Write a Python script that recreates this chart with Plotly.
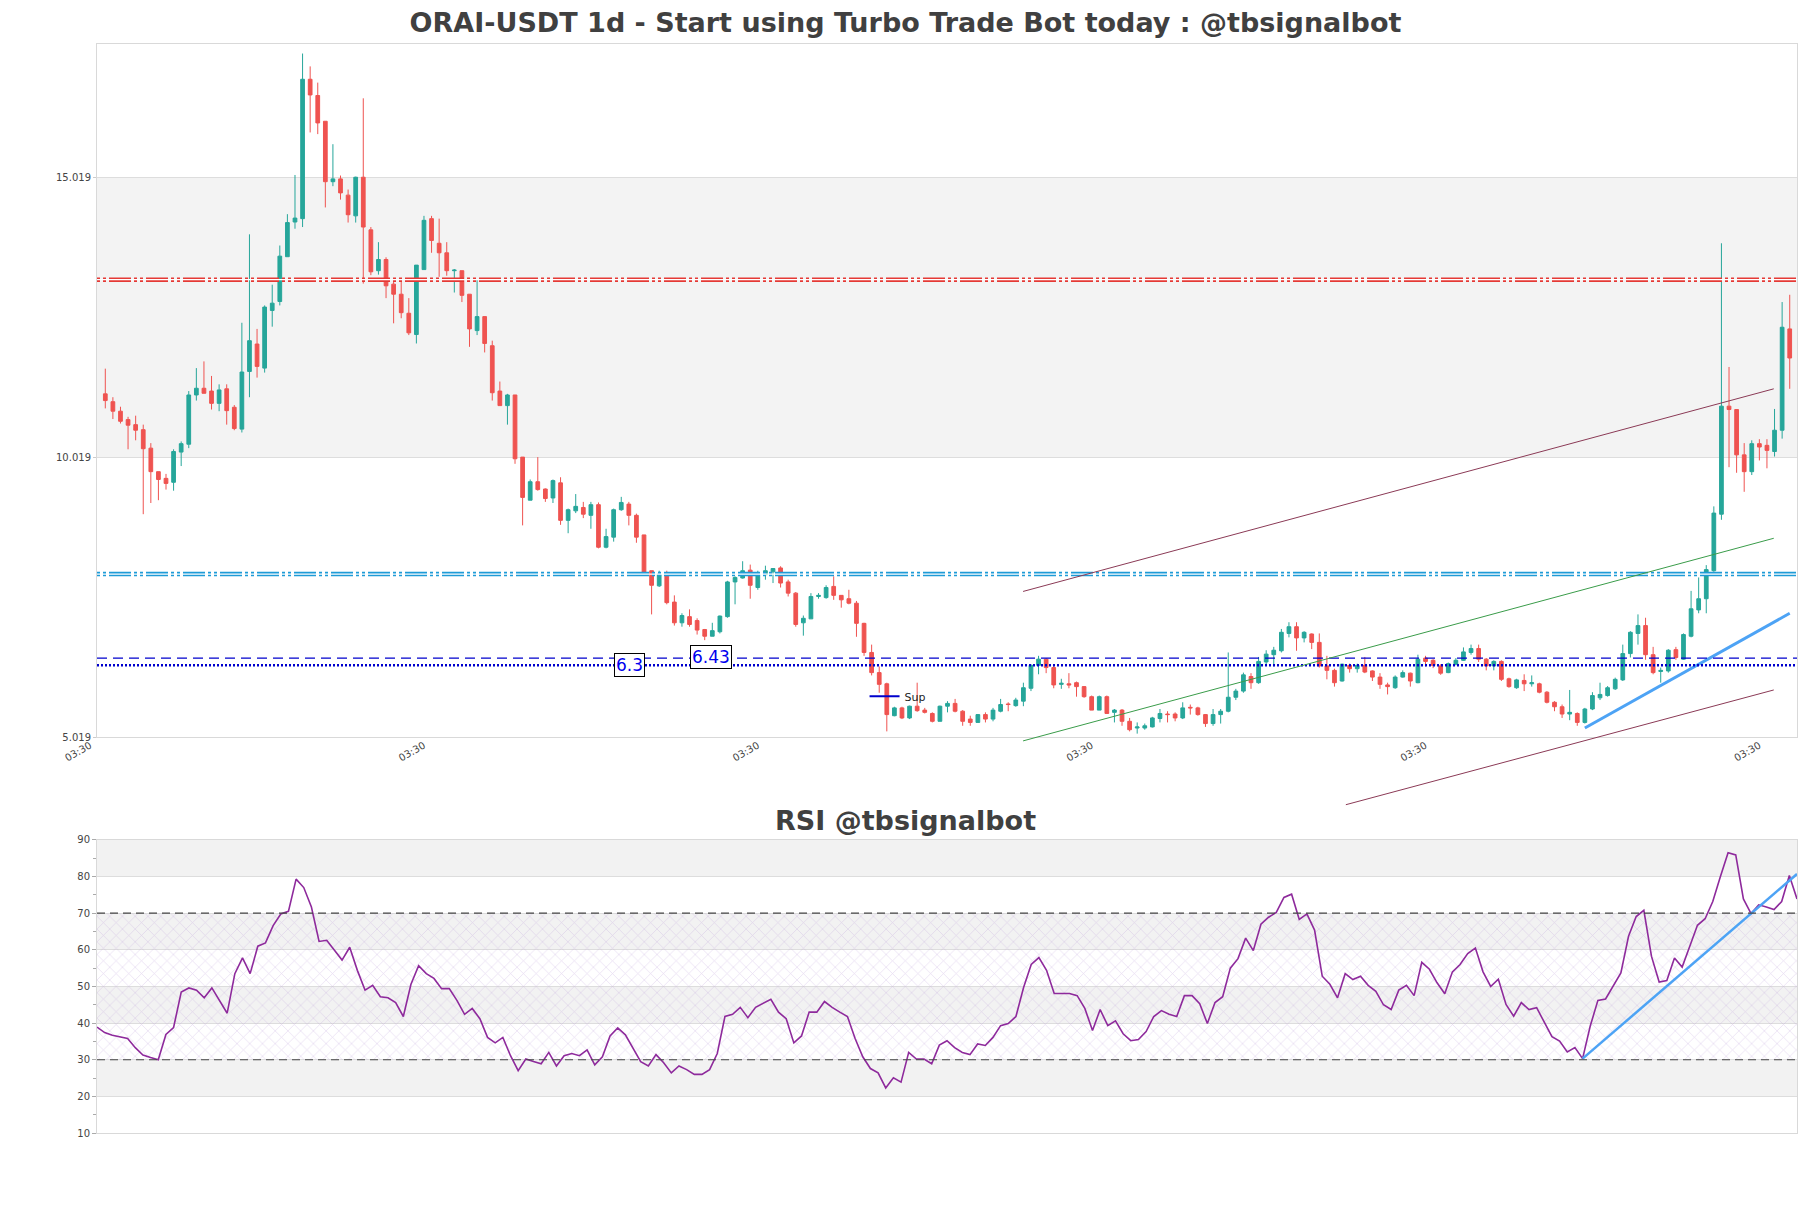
import plotly.graph_objects as go

# ---------------- data ----------------
opens = [11.15, 11.01, 10.84, 10.69, 10.60, 10.51, 10.18, 9.76, 9.64, 9.57,
         10.11, 10.25, 11.13, 11.25, 11.20, 10.98, 11.24, 10.91, 10.52, 11.55,
         12.04, 11.61, 12.64, 12.80, 13.60, 14.22, 14.28, 16.77, 16.48, 16.02,
         14.94, 14.99, 14.70, 14.33, 15.02, 14.08, 13.35, 13.55, 13.11, 12.93,
         12.59, 12.21, 13.37, 14.28, 13.84, 13.67, 13.35, 13.35, 12.93, 12.28,
         12.53, 12.01, 11.20, 10.94, 11.13, 10.02, 9.25, 9.58, 9.45, 9.29,
         9.56, 8.89, 9.06, 9.12, 8.98, 9.17, 8.41, 8.59, 9.08, 9.18,
         8.98, 8.63, 7.99, 7.72, 7.93, 7.43, 7.06, 7.17, 7.10, 6.94,
         6.82, 6.90, 7.17, 7.79, 7.86, 8.00, 7.69, 7.92, 7.97, 8.04,
         7.79, 7.59, 7.06, 7.13, 7.53, 7.51, 7.71, 7.55, 7.49, 7.41,
         7.05, 6.53, 6.17, 5.97, 5.40, 5.54, 5.36, 5.57, 5.50, 5.44,
         5.30, 5.57, 5.62, 5.48, 5.34, 5.28, 5.42, 5.34, 5.48, 5.61,
         5.58, 5.66, 5.89, 6.30, 6.41, 6.26, 5.96, 5.97, 5.99, 5.92,
         5.74, 5.50, 5.74, 5.46, 5.50, 5.30, 5.18, 5.18, 5.20, 5.35,
         5.43, 5.43, 5.36, 5.55, 5.54, 5.42, 5.26, 5.42, 5.48, 5.73,
         5.84, 6.10, 5.99, 6.36, 6.49, 6.56, 6.87, 6.99, 6.79, 6.86,
         6.71, 6.29, 6.21, 6.02, 6.30, 6.24, 6.30, 6.20, 6.09, 5.95,
         5.90, 6.09, 6.16, 5.99, 6.43, 6.39, 6.29, 6.17, 6.32, 6.39,
         6.53, 6.60, 6.41, 6.29, 6.37, 6.06, 5.90, 6.03, 5.97, 5.97,
         5.82, 5.64, 5.56, 5.43, 5.44, 5.28, 5.52, 5.72, 5.76, 5.88,
         6.04, 6.51, 6.87, 7.01, 6.49, 6.19, 6.20, 6.58, 6.41, 6.82,
         7.29, 7.49, 7.99, 9.00, 10.93, 10.87, 10.06, 9.76, 10.26, 10.23,
         10.12, 10.50, 12.31]
highs = [11.60, 11.09, 10.92, 10.74, 10.76, 10.60, 10.27, 9.76, 9.72, 10.16,
         10.30, 11.20, 11.61, 11.73, 11.47, 11.32, 11.32, 10.95, 12.42, 14.00,
         12.31, 12.73, 13.10, 13.80, 14.36, 15.06, 17.23, 17.00, 16.71, 16.02,
         15.61, 15.05, 14.80, 15.03, 16.43, 14.13, 13.86, 13.59, 13.16, 13.16,
         12.86, 13.45, 14.33, 14.33, 14.28, 13.86, 13.38, 13.35, 12.93, 13.19,
         12.53, 12.10, 11.37, 11.15, 11.13, 10.02, 9.62, 10.02, 9.46, 9.62,
         9.66, 9.10, 9.36, 9.22, 9.22, 9.21, 8.74, 9.10, 9.31, 9.22,
         9.01, 8.63, 7.99, 7.99, 7.99, 7.55, 7.23, 7.30, 7.14, 6.95,
         7.06, 7.19, 7.81, 7.89, 8.16, 8.10, 7.99, 8.08, 8.03, 8.07,
         7.83, 7.61, 7.19, 7.59, 7.59, 7.73, 7.89, 7.55, 7.65, 7.45,
         7.06, 6.67, 6.28, 5.99, 5.56, 5.56, 5.58, 5.99, 5.54, 5.46,
         5.58, 5.66, 5.70, 5.50, 5.40, 5.43, 5.46, 5.54, 5.70, 5.64,
         5.72, 5.99, 6.32, 6.47, 6.43, 6.29, 6.06, 6.16, 6.01, 5.93,
         5.76, 5.76, 5.76, 5.52, 5.52, 5.36, 5.28, 5.26, 5.38, 5.52,
         5.48, 5.46, 5.64, 5.60, 5.56, 5.43, 5.52, 5.52, 6.53, 5.88,
         6.17, 6.16, 6.45, 6.57, 6.63, 6.95, 7.07, 7.07, 6.91, 6.87,
         6.87, 6.47, 6.24, 6.33, 6.33, 6.33, 6.45, 6.21, 6.16, 5.99,
         6.12, 6.21, 6.17, 6.49, 6.47, 6.41, 6.32, 6.35, 6.43, 6.62,
         6.67, 6.67, 6.43, 6.39, 6.39, 6.08, 6.06, 6.14, 6.12, 5.99,
         5.84, 5.66, 5.60, 5.86, 5.46, 5.54, 5.82, 5.99, 5.93, 6.08,
         6.67, 6.91, 7.21, 7.15, 6.63, 6.26, 6.59, 6.63, 6.87, 7.63,
         7.87, 8.09, 9.14, 13.84, 11.63, 10.87, 10.27, 10.32, 10.34, 10.34,
         10.88, 12.79, 12.92]
lows = [10.89, 10.70, 10.62, 10.16, 10.32, 9.00, 9.20, 9.25, 9.44, 9.42,
        9.86, 10.18, 11.03, 11.16, 10.87, 10.84, 10.60, 10.50, 10.46, 11.09,
        11.44, 11.53, 12.35, 12.73, 13.60, 14.10, 14.13, 15.82, 15.79, 14.48,
        14.86, 14.62, 14.21, 14.21, 13.12, 13.27, 13.28, 12.86, 12.41, 12.50,
        12.20, 12.05, 13.37, 13.67, 13.24, 13.26, 12.96, 12.79, 11.99, 12.20,
        11.89, 11.03, 10.94, 10.60, 9.90, 8.80, 9.25, 9.42, 9.22, 9.20,
        8.81, 8.66, 9.02, 8.93, 8.74, 8.39, 8.39, 8.51, 9.06, 8.80,
        8.49, 7.96, 7.21, 7.70, 7.39, 7.01, 6.99, 6.99, 6.85, 6.75,
        6.82, 6.87, 7.15, 7.39, 7.85, 7.49, 7.65, 7.83, 7.77, 7.69,
        7.53, 6.99, 6.83, 7.13, 7.49, 7.49, 7.47, 7.33, 7.39, 6.81,
        6.47, 6.12, 5.81, 5.12, 5.39, 5.34, 5.34, 5.47, 5.44, 5.28,
        5.30, 5.46, 5.46, 5.22, 5.22, 5.28, 5.28, 5.30, 5.46, 5.48,
        5.56, 5.57, 5.84, 6.14, 6.16, 5.89, 5.88, 5.89, 5.74, 5.72,
        5.50, 5.50, 5.44, 5.28, 5.22, 5.12, 5.08, 5.15, 5.19, 5.28,
        5.28, 5.30, 5.34, 5.42, 5.40, 5.20, 5.22, 5.26, 5.46, 5.68,
        5.81, 5.88, 5.97, 6.32, 6.28, 6.53, 6.80, 6.56, 6.71, 6.59,
        6.26, 6.05, 5.92, 6.01, 6.17, 6.17, 6.16, 6.02, 5.88, 5.78,
        5.88, 6.08, 5.92, 5.98, 6.28, 6.25, 6.13, 6.16, 6.30, 6.38,
        6.49, 6.36, 6.21, 6.21, 6.02, 5.90, 5.88, 5.84, 5.92, 5.80,
        5.62, 5.48, 5.36, 5.32, 5.22, 5.26, 5.50, 5.68, 5.74, 5.86,
        6.02, 6.44, 6.67, 6.40, 6.14, 5.99, 6.17, 6.40, 6.40, 6.80,
        7.23, 7.23, 7.97, 8.90, 9.84, 9.74, 9.40, 9.70, 9.96, 9.82,
        10.03, 10.35, 11.24]
closes = [11.03, 10.84, 10.66, 10.59, 10.50, 10.17, 9.76, 9.62, 9.55, 10.12,
          10.26, 11.13, 11.25, 11.16, 10.98, 11.22, 10.85, 10.53, 11.54, 12.10,
          11.64, 12.70, 12.77, 13.61, 14.21, 14.29, 16.77, 16.49, 15.99, 14.94,
          14.99, 14.74, 14.35, 15.02, 14.13, 13.33, 13.55, 13.08, 12.93, 12.60,
          12.24, 13.45, 14.25, 13.89, 13.67, 13.35, 13.36, 12.91, 12.31, 12.53,
          12.05, 11.17, 10.94, 11.13, 9.99, 9.30, 9.58, 9.44, 9.28, 9.60,
          8.89, 9.08, 9.14, 9.00, 9.17, 8.41, 8.60, 9.08, 9.21, 8.98,
          8.59, 7.96, 7.73, 7.93, 7.42, 7.06, 7.19, 7.03, 6.93, 6.82,
          6.92, 7.18, 7.79, 7.87, 7.99, 7.73, 7.93, 7.99, 8.03, 7.77,
          7.59, 7.03, 7.14, 7.53, 7.55, 7.69, 7.55, 7.47, 7.41, 7.05,
          6.53, 6.17, 5.96, 5.42, 5.54, 5.36, 5.57, 5.49, 5.46, 5.30,
          5.57, 5.62, 5.48, 5.30, 5.28, 5.42, 5.34, 5.50, 5.60, 5.60,
          5.68, 5.90, 6.30, 6.41, 6.26, 5.95, 5.98, 5.95, 5.92, 5.74,
          5.50, 5.74, 5.44, 5.50, 5.30, 5.15, 5.20, 5.22, 5.36, 5.44,
          5.42, 5.36, 5.54, 5.54, 5.42, 5.26, 5.42, 5.48, 5.73, 5.84,
          6.13, 5.99, 6.37, 6.50, 6.57, 6.89, 6.99, 6.79, 6.89, 6.71,
          6.29, 6.21, 5.99, 6.32, 6.24, 6.30, 6.18, 6.09, 5.96, 5.92,
          6.09, 6.17, 6.02, 6.41, 6.37, 6.30, 6.16, 6.33, 6.39, 6.54,
          6.60, 6.41, 6.29, 6.37, 6.05, 5.92, 6.04, 5.97, 5.99, 5.82,
          5.64, 5.56, 5.43, 5.46, 5.28, 5.52, 5.76, 5.78, 5.90, 6.05,
          6.51, 6.89, 7.01, 6.49, 6.17, 6.21, 6.57, 6.44, 6.85, 7.31,
          7.49, 8.01, 9.02, 10.93, 10.87, 10.06, 9.76, 10.26, 10.20, 10.14,
          10.50, 12.34, 11.79]
rsi = [38.9, 37.4, 36.7, 36.2, 35.8, 33.3, 31.3, 30.6, 30.0, 36.9,
       38.8, 48.5, 49.6, 49.0, 46.9, 49.6, 46.0, 42.7, 53.5, 57.8,
       53.5, 61.0, 61.9, 66.6, 69.8, 70.5, 79.3, 77.0, 71.7, 62.3,
       62.6, 60.0, 57.2, 60.7, 54.4, 49.0, 50.3, 47.2, 46.9, 45.6,
       41.8, 50.6, 55.7, 53.5, 52.2, 49.4, 49.4, 46.2, 42.4, 44.0,
       41.2, 36.1, 34.6, 36.1, 31.1, 27.0, 30.2, 29.5, 28.9, 32.0,
       28.3, 31.1, 31.7, 31.1, 32.7, 28.6, 30.8, 36.5, 38.7, 36.8,
       33.0, 29.5, 28.3, 31.4, 29.2, 26.4, 28.3, 27.3, 26.0, 26.0,
       27.3, 31.7, 41.8, 42.4, 44.3, 41.5, 44.3, 45.3, 46.5, 43.0,
       41.2, 34.6, 36.5, 43.0, 43.0, 45.9, 44.3, 43.0, 41.8, 35.8,
       30.8, 27.6, 26.4, 22.3, 25.1, 23.9, 32.0, 30.2, 30.2, 28.9,
       34.0, 35.2, 33.3, 32.0, 31.4, 34.3, 33.9, 36.1, 39.3, 39.9,
       41.8, 49.7, 56.0, 57.9, 54.4, 48.1, 48.1, 48.1, 47.5, 44.0,
       38.0, 43.7, 39.3, 40.6, 37.1, 35.2, 35.5, 37.7, 41.8, 43.4,
       42.4, 41.8, 47.5, 47.5, 45.3, 39.9, 45.6, 47.2, 55.0, 57.6,
       63.2, 59.8, 67.0, 68.9, 70.2, 74.3, 75.2, 68.3, 69.8, 65.4,
       52.8, 50.6, 46.9, 53.5, 51.9, 52.8, 50.3, 48.7, 45.0, 43.7,
       49.0, 50.3, 47.5, 56.6, 54.7, 51.0, 48.0, 54.0, 56.0, 59.0,
       60.5, 54.0, 50.0, 52.0, 45.1, 41.9, 45.6, 43.7, 44.2, 40.1,
       36.3, 35.1, 32.1, 33.3, 30.3, 39.2, 46.2, 46.6, 50.1, 53.7,
       63.7, 69.1, 70.8, 58.2, 51.2, 51.6, 57.8, 55.3, 61.0, 66.7,
       68.5, 73.2, 80.0, 86.5, 85.9, 73.9, 69.9, 72.3, 71.7, 71.0,
       73.2, 80.3, 73.9]
idx = list(range(len(closes)))

tick_pos = [-1.09, 42.9, 86.9, 130.9, 174.9, 218.9]
tick_text = ["03:30"] * len(tick_pos)
price_ticks = [5.019, 10.019, 15.019]

res_level = 13.19
mid_level = 7.93
sup_dash = 6.43
sup_dot = 6.3

upper_ch_x, upper_ch_y = [120.96, 219.9], [7.62, 11.24]
green_ch_x, green_ch_y = [120.96, 219.9], [4.95, 8.57]
lower_ch_x, lower_ch_y = [163.5, 219.9], [3.81, 5.86]
sup_tr_x, sup_tr_y = [195, 222], [5.18, 7.23]
rsi_tr_x, rsi_tr_y = [194, 222], [30.3, 80.7]

# ---------------- layout constants ----------------
# the page body adds an 8px offset, so the figure is 8px smaller
W, H = 1803, 1200
MAIN_DOM = [0.3636, 1.0]
RSI_DOM = [0.0, 0.2691]
YMIN, YMAX = 5.019, 17.40
XMIN, XMAX = -1.094, 222.96
FONT = "DejaVu Sans"
GREEN, RED = "#26a69a", "#ef5350"


def to_paper(v):
    return MAIN_DOM[0] + (v - YMIN) / (YMAX - YMIN) * (MAIN_DOM[1] - MAIN_DOM[0])


fig = go.Figure()

fig.add_trace(go.Candlestick(
    x=idx, open=opens, high=highs, low=lows, close=closes,
    increasing=dict(line=dict(color=GREEN, width=1), fillcolor=GREEN),
    decreasing=dict(line=dict(color=RED, width=1), fillcolor=RED),
    whiskerwidth=0, showlegend=False, xaxis="x", yaxis="y", hoverinfo="skip"))

# support trendline
fig.add_trace(go.Scatter(x=sup_tr_x, y=sup_tr_y, mode="lines",
                         line=dict(color="#4da3f5", width=3), showlegend=False,
                         xaxis="x", yaxis="y", hoverinfo="skip"))

# legend entry
fig.add_trace(go.Scatter(x=[None], y=[None], mode="lines", name="Sup",
                         line=dict(color="#0000cd", width=2), showlegend=True,
                         xaxis="x", yaxis="y"))

# RSI hatch area 30..70
fig.add_trace(go.Scatter(x=[0, 222, 222, 0, 0], y=[30, 30, 70, 70, 30], mode="none",
                         fill="toself", fillcolor="rgba(0,0,0,0)",
                         fillpattern=dict(shape="x", fgcolor="rgba(185,150,215,0.7)",
                                          bgcolor="rgba(0,0,0,0)", size=9, solidity=0.15),
                         showlegend=False, xaxis="x2", yaxis="y2", hoverinfo="skip"))

fig.add_trace(go.Scatter(x=idx, y=rsi, mode="lines",
                         line=dict(color="#8e2a9c", width=1.6), showlegend=False,
                         xaxis="x2", yaxis="y2", hoverinfo="skip"))
fig.add_trace(go.Scatter(x=rsi_tr_x, y=rsi_tr_y, mode="lines",
                         line=dict(color="#4da3f5", width=2.5), showlegend=False,
                         xaxis="x2", yaxis="y2", hoverinfo="skip"))

shapes = []
# main band
shapes.append(dict(type="rect", xref="x domain", yref="y", x0=0, x1=1,
                   y0=price_ticks[1], y1=price_ticks[2], fillcolor="#f3f3f3",
                   line=dict(width=0), layer="below"))
# RSI bands
for lo in [20, 40, 60, 80]:
    shapes.append(dict(type="rect", xref="x2 domain", yref="y2", x0=0, x1=1,
                       y0=lo, y1=lo + 10, fillcolor="#f2f2f2",
                       line=dict(width=0), layer="below"))
# RSI 30/70
for lv in [30, 70]:
    shapes.append(dict(type="line", xref="x2 domain", yref="y2", x0=0, x1=1,
                       y0=lv, y1=lv, line=dict(color="#444444", width=1.2, dash="8px,5px")))

# pattern lines (resistance / mid)
for lv, col in [(res_level, "#e53935"), (mid_level, "#1e9bd7")]:
    shapes.append(dict(type="line", xref="x domain", yref="y", x0=0, x1=1,
                       y0=lv, y1=lv, line=dict(color=col, width=4.5,
                                               dash="3px,3px,3px,3px,22px,3px")))
    shapes.append(dict(type="line", xref="x domain", yref="y", x0=0, x1=1,
                       y0=lv, y1=lv, line=dict(color="white", width=1.3)))

shapes.append(dict(type="line", xref="x domain", yref="y", x0=0, x1=1,
                   y0=sup_dash, y1=sup_dash, line=dict(color="#0000cd", width=1.3, dash="10px,6px")))
shapes.append(dict(type="line", xref="x domain", yref="y", x0=0, x1=1,
                   y0=sup_dot, y1=sup_dot, line=dict(color="#0000cd", width=2.5, dash="2px,2px")))

# channel lines (may extend below plot area)
for xs, ys, col in [(upper_ch_x, upper_ch_y, "#8b3a56"),
                    (green_ch_x, green_ch_y, "#3a9c4a"),
                    (lower_ch_x, lower_ch_y, "#8b3a56")]:
    shapes.append(dict(type="line", xref="x", yref="paper", x0=xs[0], x1=xs[1],
                       y0=to_paper(ys[0]), y1=to_paper(ys[1]),
                       line=dict(color=col, width=1)))

annotations = [
    dict(x=69.1, y=sup_dot, xref="x", yref="y", text="6.3", showarrow=False,
         font=dict(family=FONT, size=17, color="#0000ee"), bgcolor="white",
         bordercolor="black", borderwidth=1, borderpad=1),
    dict(x=79.8, y=sup_dash + 0.02, xref="x", yref="y", text="6.43", showarrow=False,
         font=dict(family=FONT, size=17, color="#0000ee"), bgcolor="white",
         bordercolor="black", borderwidth=1, borderpad=1),
    dict(x=0.4753, y=0.2874, xref="paper", yref="paper", text="<b>RSI @tbsignalbot</b>",
         showarrow=False, xanchor="center", yanchor="middle",
         font=dict(family=FONT, size=27, color="#404040")),
]

axis_common = dict(showline=True, mirror=True, linecolor="#d9d9d9", linewidth=1,
                   zeroline=False)

fig.update_layout(
    width=W, height=H,
    margin=dict(l=89, r=14, t=36, b=75),
    paper_bgcolor="white", plot_bgcolor="white",
    font=dict(family=FONT, color="#444444", size=10),
    title=dict(text="<b>ORAI-USDT 1d - Start using Turbo Trade Bot today : @tbsignalbot</b>",
               x=(905.5 - 8) / W, xref="container", y=1 - 15 / H, yref="container",
               xanchor="center", yanchor="middle",
               font=dict(family=FONT, size=27, color="#404040")),
    xaxis=dict(domain=[0, 1], anchor="y", range=[XMIN, XMAX], tickmode="array",
               tickvals=tick_pos, ticktext=tick_text, tickangle=-30,
               ticklabelshift=-7, ticklabelstandoff=-2,
               showgrid=False, rangeslider=dict(visible=False),
               tickfont=dict(size=10, color="#444444"), **axis_common),
    yaxis=dict(domain=MAIN_DOM, anchor="x", range=[YMIN, YMAX], tickmode="array",
               tickvals=price_ticks, ticktext=[f"{v:.3f}" for v in price_ticks],
               showgrid=True, gridcolor="#dddddd", ticks="outside", ticklen=3,
               tickcolor="#cccccc", tickfont=dict(size=10, color="#444444"), **axis_common),
    xaxis2=dict(domain=[0, 1], anchor="y2", range=[0, 222], showticklabels=False,
                showgrid=False, **axis_common),
    yaxis2=dict(domain=RSI_DOM, anchor="x2", range=[10, 90], tickmode="linear",
                tick0=10, dtick=10, showgrid=True, gridcolor="#dddddd",
                ticks="outside", ticklen=4, tickcolor="#aaaaaa",
                minor=dict(dtick=5, tick0=5, ticks="outside", ticklen=3, tickcolor="#aaaaaa",
                           showgrid=False),
                tickfont=dict(size=10, color="#444444"), **axis_common),
    shapes=shapes, annotations=annotations,
    showlegend=True,
    legend=dict(x=0.4515, y=0.401, xanchor="left", yanchor="middle",
                bgcolor="rgba(255,255,255,0)", font=dict(family=FONT, size=11, color="#222222"),
                itemwidth=30),
)

fig.write_html("out.html")
